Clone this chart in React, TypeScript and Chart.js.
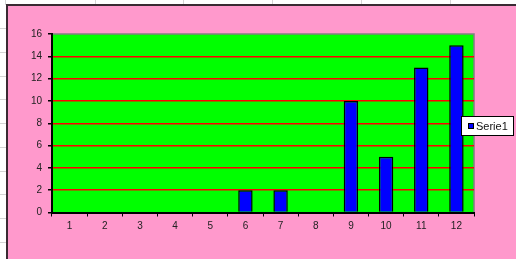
import React, { useEffect, useRef } from "react";
import { Chart, registerables } from "chart.js";

Chart.register(...registerables);

const categories = ["1", "2", "3", "4", "5", "6", "7", "8", "9", "10", "11", "12"];
const serie1 = [0, 0, 0, 0, 0, 2, 2, 0, 10, 5, 13, 15];
const seriesName = "Serie1";
const yMin = 0;
const yMax = 16;
const yStep = 2;

const W = 516;
const H = 259;

const backgroundPlugin = {
  id: "sheetBackground",
  beforeDraw(chart: any) {
    const ctx = chart.ctx;
    ctx.save();
    ctx.fillStyle = "#ffffff";
    ctx.fillRect(0, 0, W, H);
    // spreadsheet cell lines
    ctx.strokeStyle = "#d4d4d4";
    ctx.lineWidth = 1;
    [95, 183, 272, 361, 450].forEach((x) => {
      ctx.beginPath();
      ctx.moveTo(x + 0.5, 0);
      ctx.lineTo(x + 0.5, 5);
      ctx.stroke();
    });
    [28, 52, 76, 99, 123, 147, 171, 194, 218, 242].forEach((y) => {
      ctx.beginPath();
      ctx.moveTo(0, y + 0.5);
      ctx.lineTo(6, y + 0.5);
      ctx.stroke();
    });
    ctx.beginPath();
    ctx.moveTo(5.5, 0);
    ctx.lineTo(5.5, 5);
    ctx.stroke();
    // chart area (pink)
    ctx.fillStyle = "#ff99cc";
    ctx.fillRect(7, 5, W - 7, H - 5);
    ctx.strokeStyle = "#3a2a33";
    ctx.lineWidth = 2;
    ctx.beginPath();
    ctx.moveTo(7, H);
    ctx.lineTo(7, 5);
    ctx.lineTo(W, 5);
    ctx.stroke();
    // plot area (green)
    const a = chart.chartArea;
    ctx.fillStyle = "#00ff00";
    ctx.fillRect(a.left, a.top, a.right - a.left, a.bottom - a.top);
    ctx.strokeStyle = "#808080";
    ctx.lineWidth = 1.5;
    ctx.beginPath();
    ctx.moveTo(a.left, a.top);
    ctx.lineTo(a.right, a.top);
    ctx.lineTo(a.right, a.bottom);
    ctx.stroke();
    ctx.restore();
  },
};

const legendPlugin = {
  id: "boxLegend",
  afterDraw(chart: any) {
    const ctx = chart.ctx;
    const ds = chart.data.datasets[0];
    ctx.save();
    const x = 461;
    const y = 116;
    const w = 53;
    const h = 20;
    ctx.fillStyle = "#ffffff";
    ctx.fillRect(x, y, w, h);
    ctx.strokeStyle = "#000000";
    ctx.lineWidth = 1;
    ctx.strokeRect(x + 0.5, y + 0.5, w - 1, h - 1);
    ctx.fillStyle = "#000000";
    ctx.fillRect(468, 123, 6, 6);
    ctx.fillStyle = ds.backgroundColor;
    ctx.fillRect(469, 124, 4, 4);
    ctx.fillStyle = "#111111";
    ctx.font = "11px 'Liberation Sans', Arial, sans-serif";
    ctx.textBaseline = "middle";
    ctx.textAlign = "left";
    ctx.fillText(ds.label, 476, 126.5);
    ctx.restore();
  },
};

export default function App() {
  const ref = useRef<HTMLCanvasElement | null>(null);

  useEffect(() => {
    if (!ref.current) return;
    const font = { family: "'Liberation Sans', Arial, sans-serif", size: 10 };
    const chart = new Chart(ref.current, {
      type: "bar",
      data: {
        labels: categories,
        datasets: [
          {
            label: seriesName,
            data: serie1,
            backgroundColor: "#0000ff",
            borderColor: "#000000",
            borderWidth: 1.5,
            barPercentage: 0.41,
            categoryPercentage: 1,
          },
        ],
      },
      options: {
        animation: false,
        responsive: false,
        maintainAspectRatio: false,
        devicePixelRatio: 1,
        layout: { padding: { left: 0, top: 34, right: 42, bottom: 0 } },
        plugins: {
          legend: { display: false },
          tooltip: { enabled: false },
        },
        scales: {
          x: {
            offset: true,
            grid: {
              display: true,
              offset: true,
              drawOnChartArea: false,
              drawTicks: true,
              tickLength: 4,
              color: "#000000",
              lineWidth: 1,
            },
            border: { display: true, color: "#000000", width: 2 },
            ticks: { font, color: "#222222", padding: 4, maxRotation: 0, autoSkip: false },
            afterFit(scale: any) {
              scale.height = 46.5;
            },
          },
          y: {
            min: yMin,
            max: yMax,
            grid: {
              display: true,
              drawTicks: true,
              tickLength: 4,
              color: (c: any) =>
                c.tick && c.tick.value === yMax ? "rgba(0,0,0,0)" : c.tick && c.tick.value === yMin ? "#000000" : "#ff0000",
              tickColor: "#000000",
              lineWidth: 1.5,
            },
            border: { display: true, color: "#000000", width: 2 },
            ticks: { stepSize: yStep, font, color: "#222222", padding: 6 },
            afterFit(scale: any) {
              scale.width = 52;
            },
          },
        },
      },
      plugins: [backgroundPlugin, legendPlugin],
    });
    return () => chart.destroy();
  }, []);

  return (
    <div style={{ position: "fixed", left: 0, top: 0, width: W, height: H }}>
      <canvas ref={ref} width={W} height={H} style={{ width: W, height: H, display: "block" }} />
    </div>
  );
}
